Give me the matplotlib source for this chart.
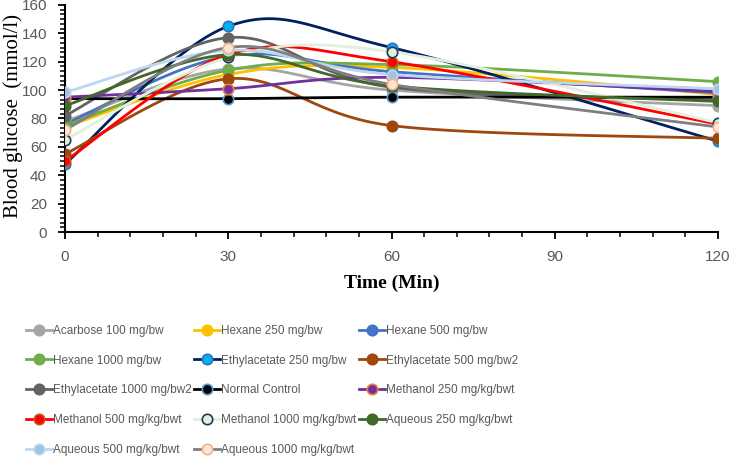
import numpy as np
import matplotlib.pyplot as plt
from matplotlib.ticker import MultipleLocator

# Tiempos de muestreo (min)
tiempos = [0, 30, 60, 120]

nombres = ['Acarbose 100 mg/bw', 'Hexane 250 mg/bw', 'Hexane 500 mg/bw',
           'Hexane 1000 mg/bw', 'Ethylacetate 250 mg/bw', 'Ethylacetate 500 mg/bw2',
           'Ethylacetate 1000 mg/bw2', 'Normal Control', 'Methanol 250 mg/kg/bwt',
           'Methanol 500 mg/kg/bwt', 'Methanol 1000 mg/kg/bwt', 'Aqueous 250 mg/kg/bwt',
           'Aqueous 500 mg/kg/bwt', 'Aqueous 1000 mg/kg/bwt']

acarbose_100 = [78, 115, 100, 89]
hexano_250 = [74, 111, 116, 97]
hexano_500 = [76, 124, 113, 98]
hexano_1000 = [75, 114, 118, 106]
etil_250 = [48, 145, 130, 64]
etil_500 = [55, 108, 75, 66]
etil_1000 = [82, 137, 102, 93]
control = [94, 94, 95, 95]
metanol_250 = [95, 101, 109, 99]
metanol_500 = [50, 125, 120, 76]
metanol_1000 = [65, 123, 127, 77]
acuoso_250 = [89, 125, 103, 92]
acuoso_500 = [98.5, 128, 111, 101]
acuoso_1000 = [72, 130, 104, 74]

series = [acarbose_100, hexano_250, hexano_500, hexano_1000, etil_250, etil_500,
          etil_1000, control, metanol_250, metanol_500, metanol_1000, acuoso_250,
          acuoso_500, acuoso_1000]

# (color linea, relleno marcador, borde marcador)
estilos = [('#A5A5A5', '#A5A5A5', '#A5A5A5'),
           ('#FFC000', '#FFC000', '#FFC000'),
           ('#4472C4', '#4472C4', '#4472C4'),
           ('#70AD47', '#70AD47', '#70AD47'),
           ('#002060', '#00B0F0', '#2E75B6'),
           ('#9E480E', '#9E480E', '#9E480E'),
           ('#636363', '#636363', '#636363'),
           ('#000000', '#000000', '#5B9BD5'),
           ('#7030A0', '#7030A0', '#ED7D31'),
           ('#FF0000', '#FF0000', '#C55A11'),
           ('#E2F0D9', '#E2F0D9', '#203864'),
           ('#43682B', '#43682B', '#43682B'),
           ('#BDD7EE', '#9DC3E6', '#BDD7EE'),
           ('#7F7F7F', '#FBE5D6', '#F4B183')]


def suavizar(x, y, n=40):
    # curva suavizada tipo Excel (Bezier)
    pts = np.column_stack([x, y]).astype(float)
    P = np.vstack([pts[0], pts, pts[-1]])
    partes = []
    t = np.linspace(0, 1, n)[:, None]
    for i in range(len(pts) - 1):
        p0, p1, p2, p3 = P[i], P[i + 1], P[i + 2], P[i + 3]
        c1 = p1 + (p2 - p0) / 6
        c2 = p2 - (p3 - p1) / 6
        seg = (1 - t)**3 * p1 + 3 * (1 - t)**2 * t * c1 + 3 * (1 - t) * t**2 * c2 + t**3 * p2
        partes.append(seg if i == 0 else seg[1:])
    return np.vstack(partes)


fig = plt.figure(figsize=(7.31, 4.61), dpi=100)
ax = fig.add_axes([65 / 731, 1 - 232 / 461, 653 / 731, 227 / 461])

handles = []
for k, (vals, (lc, fc, ec)) in enumerate(zip(series, estilos)):
    curva = suavizar(tiempos, vals)
    ax.plot(curva[:, 0], curva[:, 1], color=lc, lw=2.0, zorder=2 + k * 0.01,
            solid_capstyle='round')
    ax.plot(tiempos, vals, 'o', color=fc, mec=ec, mew=1.2, ms=7.5, zorder=3 + k * 0.01)
    h, = plt.plot([], [], '-o', color=lc, mfc=fc, mec=ec, mew=1.2, ms=7.5, lw=2.0)
    handles.append(h)

ax.set_xlim(0, 120)
ax.set_ylim(0, 160)
ax.xaxis.set_major_locator(MultipleLocator(30))
ax.xaxis.set_minor_locator(MultipleLocator(6))
ax.yaxis.set_major_locator(MultipleLocator(20))
ax.yaxis.set_minor_locator(MultipleLocator(20 / 6))
for s in ['top', 'right']:
    ax.spines[s].set_visible(False)
for s in ['left', 'bottom']:
    ax.spines[s].set_linewidth(1.5)
ax.tick_params(which='major', length=5, width=1.3, color='black',
               labelsize=11, labelcolor='#595959', pad=8)
ax.tick_params(which='minor', length=3.5, width=1.1, color='black')
for lab in ax.get_xticklabels() + ax.get_yticklabels():
    lab.set_family('Liberation Sans')

ax.set_xlabel('Time (Min)', fontfamily='Liberation Serif', fontsize=14,
              fontweight='bold', labelpad=8)
fig.text(13 / 731, 1 - 116 / 461, 'Blood glucose  (mmol/l)', rotation=90,
         ha='center', va='center', fontfamily='Liberation Serif', fontsize=15)

# leyenda por filas (como Excel)
orden = [0, 3, 6, 9, 12, 1, 4, 7, 10, 13, 2, 5, 8, 11]
fig.legend([handles[i] for i in orden], [nombres[i] for i in orden],
           loc='upper left', bbox_to_anchor=(20 / 731, 1 - 319 / 461), ncol=3,
           frameon=False, handlelength=2.2, handletextpad=0.1, columnspacing=0.2,
           labelspacing=1.5, borderpad=0,
           prop={'family': 'Liberation Sans', 'size': 8.5}, labelcolor='#595959')

fig.savefig('out.png', dpi=100)
